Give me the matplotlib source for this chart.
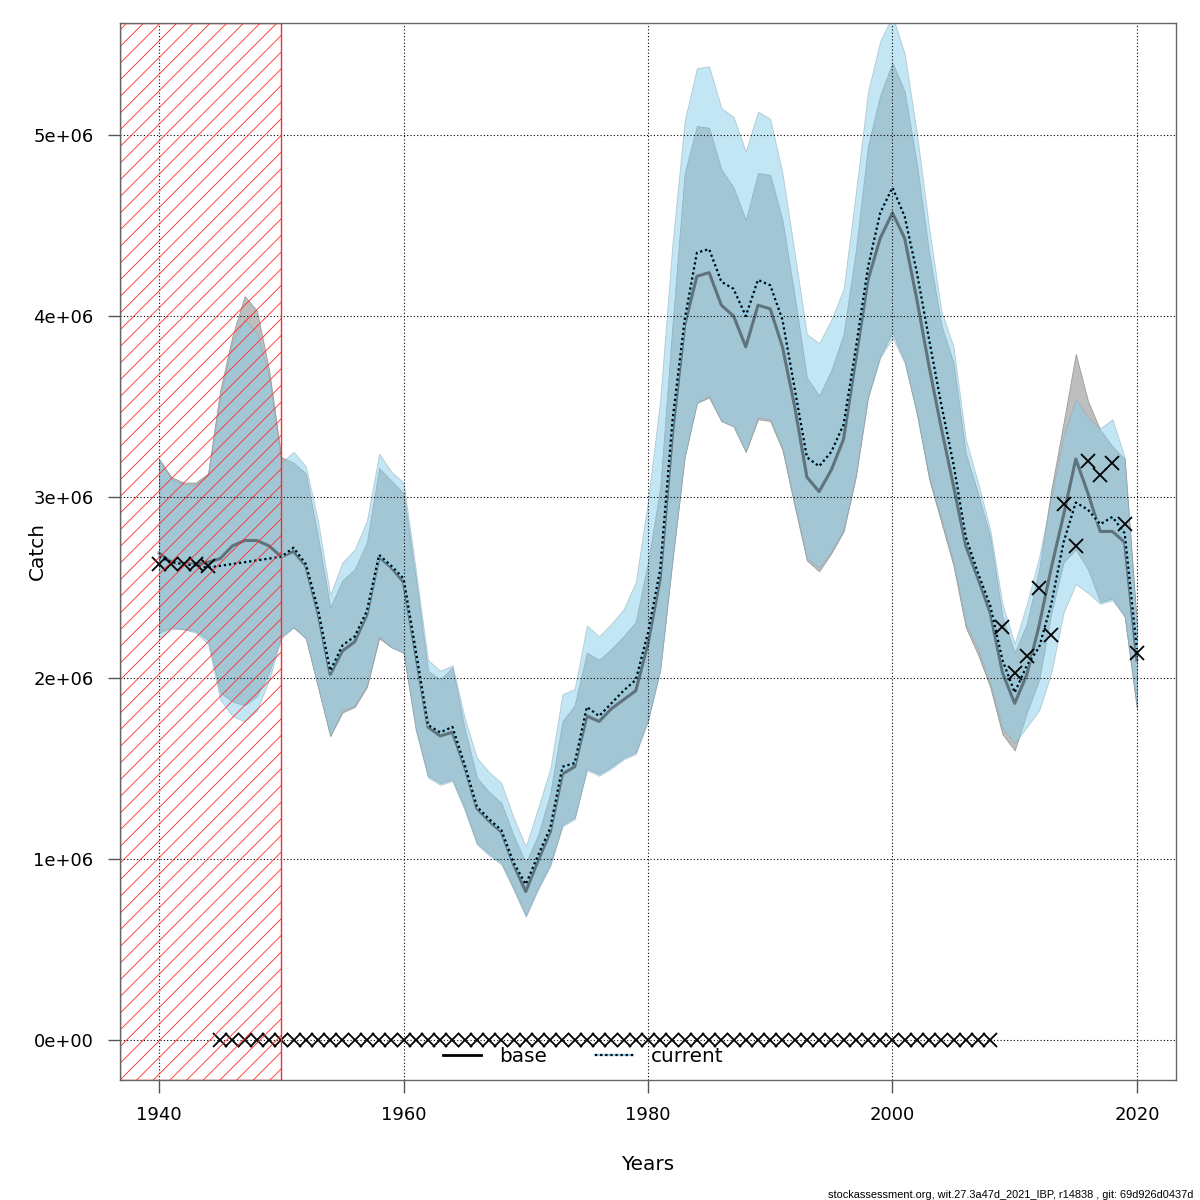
import numpy as np
import matplotlib
matplotlib.use("Agg")
import matplotlib.pyplot as plt
from matplotlib.lines import Line2D
from matplotlib.legend_handler import HandlerTuple

plt.rcParams['font.family'] = ['DejaVu Sans']
plt.rcParams['hatch.linewidth'] = 0.6

years = np.arange(1940, 2021)

base_est = [2.69, 2.64, 2.63, 2.63, 2.64, 2.66, 2.73, 2.76, 2.76, 2.73,
            2.67, 2.70, 2.62, 2.36, 2.02, 2.15, 2.20, 2.35, 2.67, 2.61,
            2.53, 2.13, 1.73, 1.68, 1.70, 1.51, 1.28, 1.21, 1.15, 0.97,
            0.82, 0.99, 1.15, 1.47, 1.51, 1.79, 1.76, 1.83, 1.88, 1.93,
            2.19, 2.55, 3.35, 3.95, 4.22, 4.24, 4.06, 4.00, 3.83, 4.06,
            4.04, 3.83, 3.50, 3.11, 3.03, 3.15, 3.32, 3.76, 4.20, 4.43,
            4.57, 4.43, 4.09, 3.72, 3.38, 3.06, 2.73, 2.55, 2.36, 2.03,
            1.86, 2.02, 2.29, 2.61, 2.90, 3.21, 3.02, 2.81, 2.81, 2.75,
            2.10]
base_hi = [3.21, 3.11, 3.08, 3.08, 3.13, 3.59, 3.89, 4.11, 4.03, 3.70,
           3.22, 3.19, 3.13, 2.78, 2.39, 2.54, 2.60, 2.75, 3.16, 3.09,
           3.02, 2.55, 2.04, 1.99, 2.06, 1.72, 1.45, 1.37, 1.31, 1.13,
           0.98, 1.13, 1.36, 1.76, 1.85, 2.14, 2.10, 2.16, 2.23, 2.31,
           2.64, 3.05, 3.95, 4.79, 5.05, 5.04, 4.81, 4.71, 4.53, 4.79,
           4.78, 4.53, 4.11, 3.66, 3.56, 3.70, 3.90, 4.36, 4.94, 5.22,
           5.40, 5.24, 4.84, 4.35, 3.95, 3.74, 3.24, 3.02, 2.78, 2.34,
           2.14, 2.30, 2.60, 3.04, 3.41, 3.79, 3.53, 3.37, 3.28, 3.21,
           2.30]
base_lo = [2.25, 2.28, 2.27, 2.26, 2.21, 1.92, 1.87, 1.85, 1.90, 2.03,
           2.23, 2.28, 2.22, 1.95, 1.68, 1.81, 1.84, 1.95, 2.22, 2.17,
           2.14, 1.72, 1.46, 1.42, 1.44, 1.28, 1.09, 1.03, 0.98, 0.84,
           0.69, 0.84, 0.97, 1.19, 1.23, 1.50, 1.47, 1.51, 1.56, 1.59,
           1.77, 2.05, 2.65, 3.22, 3.52, 3.55, 3.42, 3.39, 3.25, 3.43,
           3.42, 3.26, 2.95, 2.65, 2.59, 2.69, 2.81, 3.11, 3.55, 3.78,
           3.91, 3.75, 3.46, 3.10, 2.86, 2.62, 2.28, 2.13, 1.95, 1.69,
           1.60, 1.81, 1.99, 2.36, 2.64, 2.71, 2.60, 2.42, 2.44, 2.34,
           1.83]

cur_est = [2.67, 2.64, 2.63, 2.62, 2.61, 2.62, 2.63, 2.64, 2.65, 2.66,
           2.67, 2.72, 2.63, 2.38, 2.04, 2.18, 2.23, 2.37, 2.68, 2.62,
           2.55, 2.15, 1.74, 1.70, 1.73, 1.52, 1.29, 1.22, 1.16, 0.98,
           0.86, 1.02, 1.17, 1.51, 1.53, 1.84, 1.79, 1.86, 1.93, 1.99,
           2.25, 2.60, 3.42, 3.98, 4.35, 4.37, 4.19, 4.15, 4.00, 4.20,
           4.17, 3.98, 3.60, 3.22, 3.17, 3.25, 3.40, 3.82, 4.27, 4.57,
           4.71, 4.55, 4.24, 3.87, 3.51, 3.18, 2.78, 2.58, 2.40, 2.10,
           1.92, 2.07, 2.17, 2.41, 2.75, 2.97, 2.93, 2.85, 2.89, 2.80,
           2.16]
cur_hi = [3.20, 3.10, 3.07, 3.07, 3.12, 3.55, 3.86, 3.98, 3.91, 3.66,
          3.19, 3.25, 3.17, 2.87, 2.46, 2.64, 2.71, 2.87, 3.24, 3.14,
          3.08, 2.60, 2.10, 2.04, 2.07, 1.78, 1.56, 1.48, 1.42, 1.23,
          1.07, 1.28, 1.50, 1.91, 1.94, 2.29, 2.23, 2.30, 2.38, 2.53,
          2.98, 3.54, 4.40, 5.08, 5.37, 5.38, 5.15, 5.10, 4.91, 5.13,
          5.09, 4.79, 4.35, 3.90, 3.85, 3.98, 4.15, 4.68, 5.24, 5.52,
          5.66, 5.45, 5.01, 4.49, 4.03, 3.83, 3.32, 3.08, 2.82, 2.41,
          2.19, 2.41, 2.67, 3.00, 3.34, 3.54, 3.44, 3.38, 3.43, 3.22,
          2.28]
cur_lo = [2.22, 2.27, 2.27, 2.25, 2.19, 1.88, 1.79, 1.76, 1.82, 1.99,
          2.22, 2.28, 2.22, 1.95, 1.68, 1.82, 1.85, 1.96, 2.23, 2.17,
          2.14, 1.71, 1.45, 1.41, 1.43, 1.27, 1.08, 1.02, 0.97, 0.83,
          0.68, 0.83, 0.96, 1.18, 1.22, 1.49, 1.46, 1.50, 1.55, 1.58,
          1.76, 2.04, 2.65, 3.22, 3.52, 3.56, 3.42, 3.39, 3.25, 3.44,
          3.43, 3.27, 2.96, 2.66, 2.61, 2.70, 2.82, 3.12, 3.55, 3.77,
          3.88, 3.74, 3.46, 3.11, 2.88, 2.64, 2.30, 2.16, 1.97, 1.72,
          1.64, 1.73, 1.82, 2.03, 2.36, 2.52, 2.47, 2.41, 2.43, 2.34,
          1.84]

obs_years = list(range(1940, 1945)) + list(range(2009, 2021))
obs_catch = [2.63, 2.63, 2.63, 2.63, 2.62,
             2.28, 2.03, 2.12, 2.50, 2.24, 2.96, 2.73, 3.20, 3.12, 3.19, 2.85, 2.14]
zero_years = list(range(1945, 2009))
zero_catch = [0.0] * len(zero_years)

xticks = [1940, 1960, 1980, 2000, 2020]
yticks = [0, 1e6, 2e6, 3e6, 4e6, 5e6]
ytick_labels = ["0e+00", "1e+06", "2e+06", "3e+06", "4e+06", "5e+06"]
hatch_end = 1950
footer = "stockassessment.org, wit.27.3a47d_2021_IBP, r14838 , git: 69d926d0437d"

M = 1e6
def m(a):
    return np.asarray(a) * M

fig = plt.figure(figsize=(12, 12), dpi=100)
ax = fig.add_axes([0.1, 0.1, 0.88, 0.8808])

xlim = (1936.8, 2023.2)
ax.set_xlim(*xlim)
ax.set_ylim(-0.221e6, 5.619e6)

ax.fill_between(years, m(base_lo), m(base_hi), facecolor='#bebebe',
                edgecolor='#9a9a9a', linewidth=0.6, zorder=1)
ax.fill_between(years, m(cur_lo), m(cur_hi), facecolor='#87ceeb', alpha=0.5,
                edgecolor='#8aa0aa', linewidth=0.6, zorder=2)

ax.plot(years, m(base_est), color='black', alpha=0.42, lw=2.2, zorder=3)
ax.plot(years, m(cur_est), color='#87ceeb', lw=1.6, zorder=4)
ax.plot(years, m(cur_est), color='black', lw=1.6, ls=(0, (1, 1.3)), zorder=5)

ax.plot(obs_years, m(obs_catch), ls='none', marker='x', color='black',
        markersize=10, mew=1.3, zorder=6)
ax.plot(zero_years, zero_catch, ls='none', marker='x', color='black',
        markersize=10, mew=1.3, zorder=6)

ax.axvspan(xlim[0], hatch_end, facecolor='none', edgecolor='#ff2a2a',
           hatch='//', linewidth=1.0, zorder=7)

ax.set_xticks(xticks)
ax.set_yticks(yticks)
ax.set_yticklabels(ytick_labels)
ax.tick_params(axis='both', labelsize=13, length=9, width=1, color='#555555',
               pad=10, direction='out')
ax.grid(True, color='black', linestyle=(0, (1, 2)), linewidth=0.8, zorder=8)
ax.set_axisbelow(False)
for s in ax.spines.values():
    s.set_color('#666666')
    s.set_linewidth(1.0)
    s.set_zorder(9)

fig.text(37 / 1200, 1 - 551 / 1200, "Catch", rotation=90, ha='center',
         va='center', fontsize=14.4)
fig.text(648 / 1200, 1 - 1165 / 1200, "Years", ha='center', va='center',
         fontsize=14.4)

h_base = Line2D([], [], color='black', lw=2.0)
h_cur1 = Line2D([], [], color='#87ceeb', lw=1.6)
h_cur2 = Line2D([], [], color='black', lw=1.6, ls=(0, (1, 1.3)))
fig.legend([h_base, (h_cur1, h_cur2)], ["base", "current"],
           handler_map={tuple: HandlerTuple(ndivide=1)},
           loc='center', bbox_to_anchor=(583 / 1200, 1 - 1056 / 1200),
           ncol=2, frameon=False, fontsize=14.4, handlelength=1.9,
           handletextpad=0.9, columnspacing=2.4)

fig.text(1193 / 1200, 2 / 1200, footer, ha='right', va='baseline',
         fontsize=7.9, family=['Liberation Sans', 'DejaVu Sans'])

fig.savefig("out.png", dpi=100)
